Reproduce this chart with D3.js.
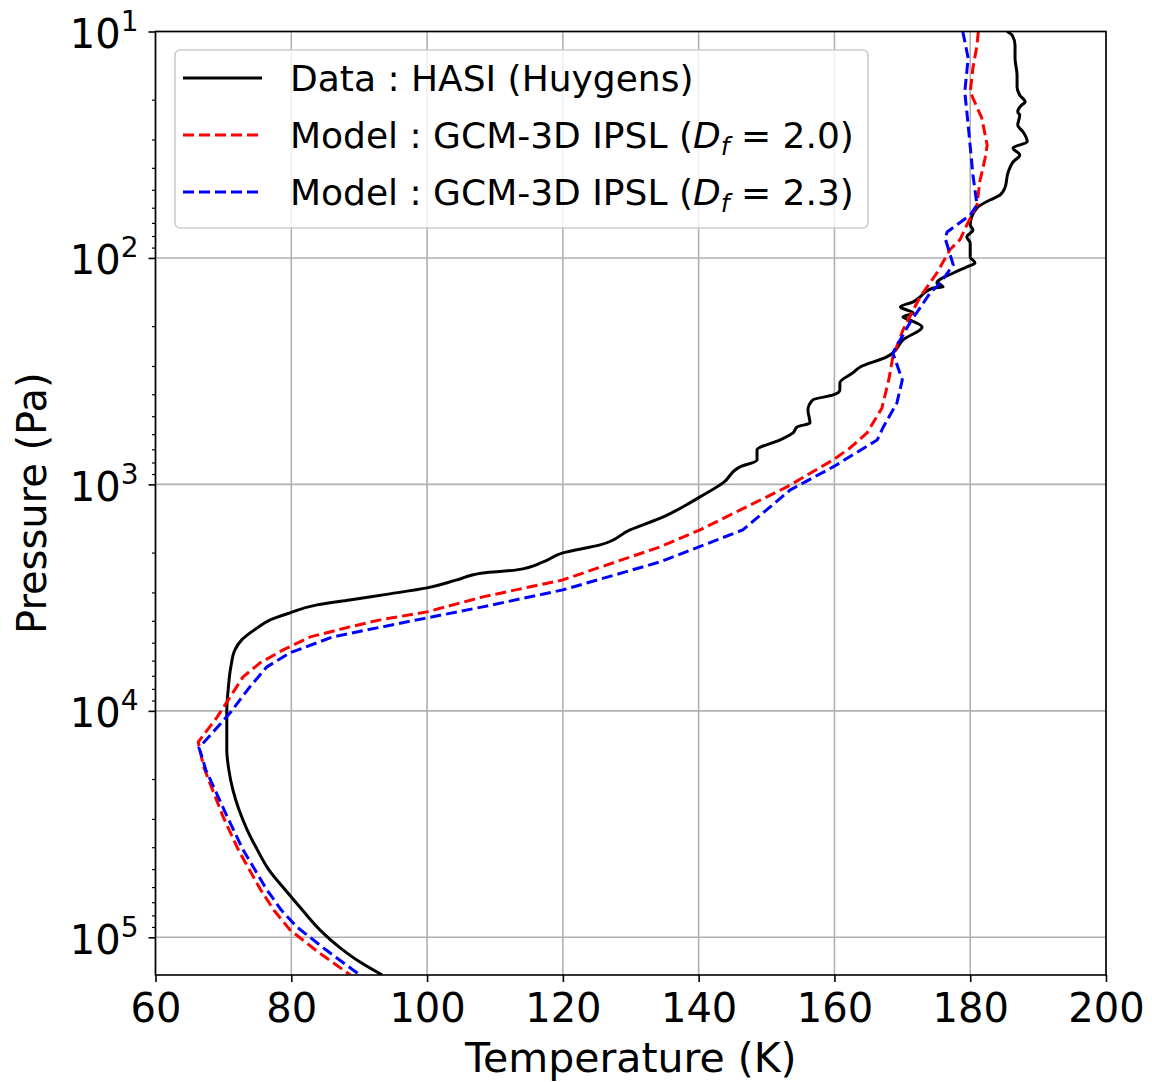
<!DOCTYPE html>
<html>
<head>
<meta charset="utf-8">
<script src="https://cdn.jsdelivr.net/npm/d3@7"></script>
<style>
  body { margin: 0; background: #fff; }
  text { font-family: "DejaVu Sans", sans-serif; fill: #000; }
</style>
</head>
<body>
<script>
// HASI (Huygens) temperature profile
const hasiT = [185.4, 186.2, 186.6, 186.6, 186.9, 186.9, 187.3, 188.1, 187.6, 187.0,
  187.3, 187.0, 187.8, 188.4, 186.3, 187.3, 186.3, 185.6, 185.1, 184.4,
  182.9, 181.0, 180.0, 180.4, 179.5, 180.0, 180.0, 180.7, 179.5, 177.5,
  175.1, 176.0, 174.5, 172.6, 171.6, 169.7, 171.6, 170.1, 171.1, 172.9,
  170.1, 168.6, 167.7, 163.8, 162.7, 160.8, 160.8, 159.8, 156.8, 156.1,
  156.4, 154.5, 153.9, 152.0, 148.6, 148.6, 146.1, 143.6, 140.2, 138.7,
  134.8, 129.9, 125.5, 120.0, 117.1, 113.2, 108.2, 104.4, 100.0, 94.5,
  88.6, 83.8, 79.8, 76.9, 75.0, 72.7, 71.7, 71.1, 70.7, 70.5,
  70.5, 70.8, 71.4, 72.3, 73.5, 75.0, 76.7, 79.1, 81.6, 84.2,
  87.2, 90.3, 93.4];
const hasiP = [10, 10.4, 11.5, 13.1, 15.6, 17.6, 19.1, 20.5, 21.1, 22.7,
  23.4, 25.9, 27.8, 30.7, 32.7, 35.1, 37.7, 41.7, 49.1, 52.7,
  55.5, 60.1, 71.5, 75.2, 80.8, 85.9, 99.0, 105.2, 109.6, 116.5,
  129, 134.3, 135.7, 148.7, 156.4, 164.6, 174.9, 182.2, 187.8, 201.7,
  230.1, 262.7, 273.6, 302.9, 321.9, 356.4, 382.6, 402.6, 423.6, 469,
  535.3, 557.5, 592.5, 636.2, 704.3, 779.5, 837, 984.9, 1135.6, 1206.8,
  1391.5, 1588, 1850, 2006, 2199, 2385, 2459, 2640, 2864, 3044,
  3236, 3404, 3693, 3964, 4301, 4860, 5380, 6392, 8076, 10000,
  14866, 18220, 22330, 27354, 33530, 41090, 50350, 61700, 75610, 92670,
  111280, 129630, 146700];

// GCM-3D IPSL, Df = 2.0
const gcm20T = [181.2, 181.0, 180.4, 180.0, 181.7, 182.5, 182.2, 181.4, 181.0, 179.5,
  178.5, 177.0, 175.1, 172.6, 170.1, 168.6, 168.0, 167.0, 164.8, 162.3,
  159.8, 153.0, 140.2, 134.3, 120.0, 108.2, 100.0, 93.1, 88.6, 82.8,
  78.8, 75.4, 72.9, 71.0, 69.1, 66.3, 66.6, 67.1, 68.0, 69.9,
  72.2, 75.4, 77.5, 79.8, 83.9, 88.7];
const gcm20P = [10, 11.5, 14.5, 18.5, 24.1, 31.7, 36.2, 46.2, 58.3, 71.5,
  83, 92, 116.5, 148.7, 208, 273.6, 345.6, 459.6, 592.5, 690,
  779.5, 1026, 1588, 1888, 2640, 3138, 3655, 3964, 4258, 4714,
  5380, 6138, 7078, 8674, 10629, 13706, 15170, 17670, 20796, 29082,
  41090, 61070, 76380, 92670, 115900, 146700];

// GCM-3D IPSL, Df = 2.3
const gcm23T = [178.9, 179.7, 179.2, 179.7, 180.4, 181.0, 180.0, 176.6, 176.3, 177.5,
  175.6, 174.1, 171.1, 168.6, 170.0, 169.2, 167.2, 166.3, 159.8, 153.5,
  146.5, 134.3, 120.0, 108.2, 98.5, 86.1, 79.8, 76.4, 73.9, 71.0,
  66.4, 66.9, 67.4, 68.3, 70.5, 72.9, 76.3, 78.5, 80.8, 85.1, 90.1];
const gcm23P = [10, 13.1, 18.5, 25.9, 43, 58.3, 64.6, 76.8, 81.6, 107.4,
  129, 142.7, 193.6, 262.7, 345.6, 436.8, 557.5, 636.2, 837, 1057.6,
  1588, 2199, 2923, 3473, 3964, 4714, 5546, 6392, 7834, 10205,
  14568, 16130, 18220, 20796, 29082, 41090, 61070, 75610, 89870, 113560, 146700];

const xTicks = [60, 80, 100, 120, 140, 160, 180, 200];
const yTicks = [1e1, 1e2, 1e3, 1e4, 1e5];
const yTickExp = ["1", "2", "3", "4", "5"];
const legendLabels = ["Data : HASI (Huygens)", "Model : GCM-3D IPSL (", "Model : GCM-3D IPSL ("];
const legendDf = [null, "2.0", "2.3"];

const width = 1152, height = 1082;
const m = { left: 155.5, right: 1106, top: 31.5, bottom: 975 };

const svg = d3.select("body").append("svg")
  .attr("width", width)
  .attr("height", height);

const x = d3.scaleLinear().domain([60, 200]).range([m.left, m.right]);
const y = d3.scaleLog().domain([10, 146700]).range([m.top, m.bottom]);

svg.append("defs").append("clipPath").attr("id", "plot")
  .append("rect")
  .attr("x", m.left).attr("y", m.top)
  .attr("width", m.right - m.left).attr("height", m.bottom - m.top);

// grid
const grid = svg.append("g");
grid.selectAll("line.gx").data(xTicks).enter().append("line")
  .attr("x1", d => x(d)).attr("x2", d => x(d))
  .attr("y1", m.top).attr("y2", m.bottom)
  .attr("stroke", "#b0b0b0").attr("stroke-width", 1.6);
grid.selectAll("line.gy").data(yTicks).enter().append("line")
  .attr("y1", d => y(d)).attr("y2", d => y(d))
  .attr("x1", m.left).attr("x2", m.right)
  .attr("stroke", "#b0b0b0").attr("stroke-width", 1.6);

// curves (measured profile smoothed, model levels joined straight)
const series = [
  { T: hasiT, P: hasiP, color: "#000000", dash: null, curve: d3.curveMonotoneY },
  { T: gcm20T, P: gcm20P, color: "#ff0000", dash: "11,5", curve: d3.curveLinear },
  { T: gcm23T, P: gcm23P, color: "#0000ff", dash: "11,5", curve: d3.curveLinear }
];
const curves = svg.append("g").attr("clip-path", "url(#plot)");
series.forEach(s => {
  const line = d3.line().x(d => x(d[0])).y(d => y(d[1])).curve(s.curve);
  curves.append("path")
    .datum(d3.zip(s.T, s.P))
    .attr("d", line)
    .attr("fill", "none")
    .attr("stroke", s.color)
    .attr("stroke-width", 3)
    .attr("stroke-linejoin", "round")
    .attr("stroke-dasharray", s.dash);
});

// axes
const xAxis = svg.append("g")
  .attr("transform", `translate(0,${m.bottom})`)
  .call(d3.axisBottom(x).tickValues(xTicks).tickSize(7).tickPadding(10).tickFormat(d3.format("d")));
xAxis.select(".domain").remove();
xAxis.selectAll(".tick line").attr("stroke", "#000").attr("stroke-width", 1.6);
xAxis.selectAll(".tick text")
  .attr("font-size", 40).attr("font-family", "DejaVu Sans").attr("dy", "0.76em");

const minor = [];
for (let e = 1; e <= 5; e++) for (let k = 2; k <= 9; k++) {
  const v = k * Math.pow(10, e);
  if (v <= 146700) minor.push(v);
}
const yMinor = svg.append("g")
  .attr("transform", `translate(${m.left},0)`)
  .call(d3.axisLeft(y).tickValues(minor).tickSize(3.5).tickFormat(""));
yMinor.select(".domain").remove();
yMinor.selectAll(".tick line").attr("stroke", "#000").attr("stroke-width", 1.2);

const yAxis = svg.append("g")
  .attr("transform", `translate(${m.left},0)`)
  .call(d3.axisLeft(y).tickValues(yTicks).tickSize(7).tickFormat(""));
yAxis.select(".domain").remove();
yAxis.selectAll(".tick line").attr("stroke", "#000").attr("stroke-width", 1.6);
yAxis.selectAll(".tick").each(function(d, i) {
  const t = d3.select(this).append("text")
    .attr("x", -17).attr("y", 16)
    .attr("text-anchor", "end")
    .attr("font-size", 40);
  t.append("tspan").text("10");
  t.append("tspan").attr("dy", -17).attr("font-size", 28).text(yTickExp[i]);
});

// frame
svg.append("rect")
  .attr("x", m.left).attr("y", m.top)
  .attr("width", m.right - m.left).attr("height", m.bottom - m.top)
  .attr("fill", "none").attr("stroke", "#000").attr("stroke-width", 1.6);

// axis labels
svg.append("text")
  .attr("x", (m.left + m.right) / 2).attr("y", 1072)
  .attr("text-anchor", "middle").attr("font-size", 41)
  .text("Temperature (K)");
svg.append("text")
  .attr("transform", `translate(46,${(m.top + m.bottom) / 2}) rotate(-90)`)
  .attr("text-anchor", "middle").attr("font-size", 40)
  .text("Pressure (Pa)");

// legend
const legend = svg.append("g");
legend.append("rect")
  .attr("x", 175).attr("y", 50).attr("width", 693).attr("height", 178).attr("rx", 5)
  .attr("fill", "#fff").attr("fill-opacity", 0.8)
  .attr("stroke", "#cccccc").attr("stroke-width", 1.6);
series.forEach((s, i) => {
  const ly = 78 + i * 57;
  legend.append("line")
    .attr("x1", 183).attr("x2", 262).attr("y1", ly).attr("y2", ly)
    .attr("stroke", s.color).attr("stroke-width", 3)
    .attr("stroke-dasharray", s.dash);
  const t = legend.append("text")
    .attr("x", 290).attr("y", ly + 13)
    .attr("font-size", 36);
  t.append("tspan").text(legendLabels[i]);
  if (legendDf[i]) {
    t.append("tspan").attr("font-style", "italic").text("D");
    t.append("tspan").attr("font-style", "italic").attr("font-size", 25).attr("dy", 7).text("f");
    t.append("tspan").attr("dy", -7).text(" = " + legendDf[i] + ")");
  }
});
</script>
</body>
</html>
